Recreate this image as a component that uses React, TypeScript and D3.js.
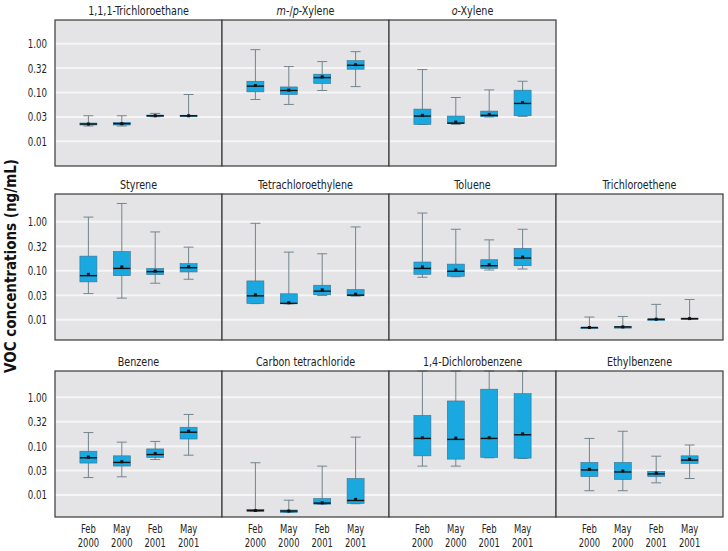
import React from 'react'
import * as d3 from 'd3'

const periods = ['Feb 2000', 'May 2000', 'Feb 2001', 'May 2001']
const tickValues = [1, 0.316, 0.1, 0.0316, 0.01]
const tickLabels = ['1.00', '0.32', '0.10', '0.03', '0.01']

// each entry: [low whisker, q1, median, q3, high whisker, mean]
const trichloroethane111 = [
  [0.0206, 0.0216, 0.0226, 0.0237, 0.0334, 0.0226],
  [0.0206, 0.0216, 0.023, 0.0245, 0.0334, 0.023],
  [0.0319, 0.0324, 0.0334, 0.0345, 0.0373, 0.0334],
  [0.0324, 0.0326, 0.0334, 0.0342, 0.091, 0.0334],
]
const mpXylene = [
  [0.072, 0.103, 0.135, 0.17, 0.755, 0.139],
  [0.057, 0.091, 0.11, 0.13, 0.34, 0.112],
  [0.11, 0.153, 0.202, 0.237, 0.43, 0.209],
  [0.132, 0.3, 0.361, 0.45, 0.687, 0.373],
]
const oXylene = [
  [0.0222, 0.0222, 0.0329, 0.0457, 0.295, 0.034],
  [0.0222, 0.023, 0.0236, 0.0329, 0.079, 0.0248],
  [0.0315, 0.0319, 0.034, 0.0416, 0.113, 0.0356],
  [0.0324, 0.0334, 0.0597, 0.1116, 0.17, 0.0625],
]
const styrene = [
  [0.034, 0.059, 0.079, 0.198, 1.24, 0.084],
  [0.0275, 0.079, 0.111, 0.246, 2.35, 0.119],
  [0.0554, 0.083, 0.0955, 0.111, 0.617, 0.098],
  [0.0667, 0.094, 0.115, 0.139, 0.302, 0.12],
]
const tetrachloroethylene = [
  [0.0212, 0.0214, 0.0306, 0.0617, 0.925, 0.0321],
  [0.021, 0.0211, 0.0215, 0.0337, 0.239, 0.0221],
  [0.031, 0.0321, 0.0381, 0.0504, 0.221, 0.0406],
  [0.0302, 0.0306, 0.0316, 0.0412, 0.78, 0.0331],
]
const toluene = [
  [0.0733, 0.0843, 0.111, 0.15, 1.5, 0.119],
  [0.075, 0.0768, 0.097, 0.136, 0.7, 0.103],
  [0.103, 0.111, 0.126, 0.167, 0.425, 0.132],
  [0.108, 0.126, 0.181, 0.284, 0.7, 0.189],
]
const trichloroethene = [
  [0.00675, 0.00678, 0.0069, 0.007, 0.0113, 0.0069],
  [0.0069, 0.007, 0.0071, 0.0072, 0.0116, 0.0071],
  [0.0101, 0.0101, 0.0102, 0.0103, 0.0205, 0.0102],
  [0.0101, 0.0101, 0.0105, 0.0107, 0.0258, 0.0105],
]
const benzene = [
  [0.0227, 0.045, 0.0577, 0.0787, 0.19, 0.0596],
  [0.0235, 0.0391, 0.0464, 0.0633, 0.121, 0.048],
  [0.0533, 0.0586, 0.0673, 0.0877, 0.125, 0.0705],
  [0.0653, 0.14, 0.193, 0.244, 0.447, 0.203],
]
const carbonTetrachloride = [
  [0.0046, 0.0046, 0.0048, 0.00506, 0.0457, 0.0048],
  [0.0044, 0.0044, 0.00468, 0.0049, 0.0078, 0.00468],
  [0.00645, 0.00648, 0.0068, 0.00843, 0.039, 0.0069],
  [0.0066, 0.00668, 0.0077, 0.0217, 0.153, 0.0081],
]
const dichlorobenzene14 = [
  [0.039, 0.0633, 0.144, 0.426, 8, 0.149],
  [0.039, 0.0542, 0.1375, 0.843, 8, 0.146],
  [0.0577, 0.0586, 0.144, 1.47, 8, 0.149],
  [0.056, 0.0568, 0.171, 1.19, 8, 0.179],
]
const ethylbenzene = [
  [0.0122, 0.0238, 0.0325, 0.0464, 0.144, 0.0335],
  [0.0122, 0.0207, 0.0296, 0.0464, 0.202, 0.031],
  [0.0177, 0.0238, 0.027, 0.0305, 0.0623, 0.028],
  [0.0217, 0.0443, 0.0517, 0.0633, 0.1056, 0.054],
]

type Panel = { title: React.ReactNode; data: number[][] }

const rows: Panel[][] = [
  [
    { title: '1,1,1-Trichloroethane', data: trichloroethane111 },
    { title: <><tspan fontStyle="italic">m</tspan>-/<tspan fontStyle="italic">p</tspan>-Xylene</>, data: mpXylene },
    { title: <><tspan fontStyle="italic">o</tspan>-Xylene</>, data: oXylene },
  ],
  [
    { title: 'Styrene', data: styrene },
    { title: 'Tetrachloroethylene', data: tetrachloroethylene },
    { title: 'Toluene', data: toluene },
    { title: 'Trichloroethene', data: trichloroethene },
  ],
  [
    { title: 'Benzene', data: benzene },
    { title: 'Carbon tetrachloride', data: carbonTetrachloride },
    { title: '1,4-Dichlorobenzene', data: dichlorobenzene14 },
    { title: 'Ethylbenzene', data: ethylbenzene },
  ],
]

// log domains differ a little per row in the original
const rowDomains = [
  [0.00312, 3.06],
  [0.00384, 3.67],
  [0.00353, 3.47],
]

const FONT = "'DejaVu Sans Condensed', 'DejaVu Sans', sans-serif"
const rowTops = [20, 194, 371]
const panelLeft = 55
const panelW = 167
const panelH = 146
const boxW = 17
const capW = 10

// the original uses a narrow face, so text is squeezed horizontally
function CText({ x, y, anchor = 'middle', size = 13, sx = 0.8, children }: {
  x: number; y: number; anchor?: string; size?: number; sx?: number; children: React.ReactNode
}) {
  return (
    <text
      transform={`translate(${x},${y}) scale(${sx},1)`}
      textAnchor={anchor}
      fontSize={size}
      fill="#222"
    >
      {children}
    </text>
  )
}

function PanelView({ panel, r, c }: { panel: Panel; r: number; c: number }) {
  const x0 = panelLeft + c * panelW
  const y0 = rowTops[r]
  const y = d3.scaleLog().domain(rowDomains[r]).range([y0 + panelH, y0]).clamp(true)
  const x = d3.scalePoint().domain(periods).range([x0, x0 + panelW]).padding(1)

  return (
    <g>
      <rect x={x0} y={y0} width={panelW} height={panelH} fill="#e4e4e6" />
      {tickValues.map((t) => (
        <line key={t} x1={x0} x2={x0 + panelW} y1={y(t)} y2={y(t)} stroke="#f6f6f6" strokeWidth={2} />
      ))}
      {panel.data.map((d, i) => {
        const cx = x(periods[i]) as number
        const [lo, q1, med, q3, hi, mean] = d
        return (
          <g key={i}>
            <line x1={cx} x2={cx} y1={y(hi)} y2={y(lo)} stroke="#73858f" strokeWidth={1} />
            <line x1={cx - capW / 2} x2={cx + capW / 2} y1={y(hi)} y2={y(hi)} stroke="#73858f" strokeWidth={1} />
            <line x1={cx - capW / 2} x2={cx + capW / 2} y1={y(lo)} y2={y(lo)} stroke="#73858f" strokeWidth={1} />
            <rect
              x={cx - boxW / 2}
              y={y(q3)}
              width={boxW}
              height={Math.max(1.5, y(q1) - y(q3))}
              fill="#19a8e0"
              stroke="#3d6f8c"
              strokeWidth={0.6}
            />
            <line x1={cx - boxW / 2} x2={cx + boxW / 2} y1={y(med)} y2={y(med)} stroke="#111" strokeWidth={1.4} />
            <rect x={cx - 1.5} y={y(mean) - 1.5} width={3} height={3} fill="#111" />
          </g>
        )
      })}
      <rect x={x0} y={y0} width={panelW} height={panelH} fill="none" stroke="#3a3a3a" strokeWidth={1.2} />
      <CText x={x0 + panelW / 2} y={y0 - 5} size={13} sx={0.82}>{panel.title}</CText>
      {c === 0 &&
        tickValues.map((t, i) => (
          <CText key={t} x={47} y={y(t) + 4.5} anchor="end" sx={0.74}>{tickLabels[i]}</CText>
        ))}
      {r === rows.length - 1 &&
        periods.map((p) => {
          const [m, yr] = p.split(' ')
          const cx = x(p) as number
          return (
            <g key={p}>
              <CText x={cx} y={532.5} size={12} sx={0.78}>{m}</CText>
              <CText x={cx} y={546.5} size={12} sx={0.78}>{yr}</CText>
            </g>
          )
        })}
    </g>
  )
}

export default function App() {
  return (
    <svg
      width={728}
      height={551}
      style={{ position: 'absolute', left: 0, top: 0, background: '#fff' }}
      fontFamily={FONT}
    >
      {rows.map((row, r) =>
        row.map((panel, c) => <PanelView key={`${r}-${c}`} panel={panel} r={r} c={c} />)
      )}
      <text
        transform="translate(15.5,266) rotate(-90)"
        textAnchor="middle"
        fontSize={15}
        fontWeight="bold"
        fill="#111"
      >
        VOC concentrations (ng/mL)
      </text>
    </svg>
  )
}
